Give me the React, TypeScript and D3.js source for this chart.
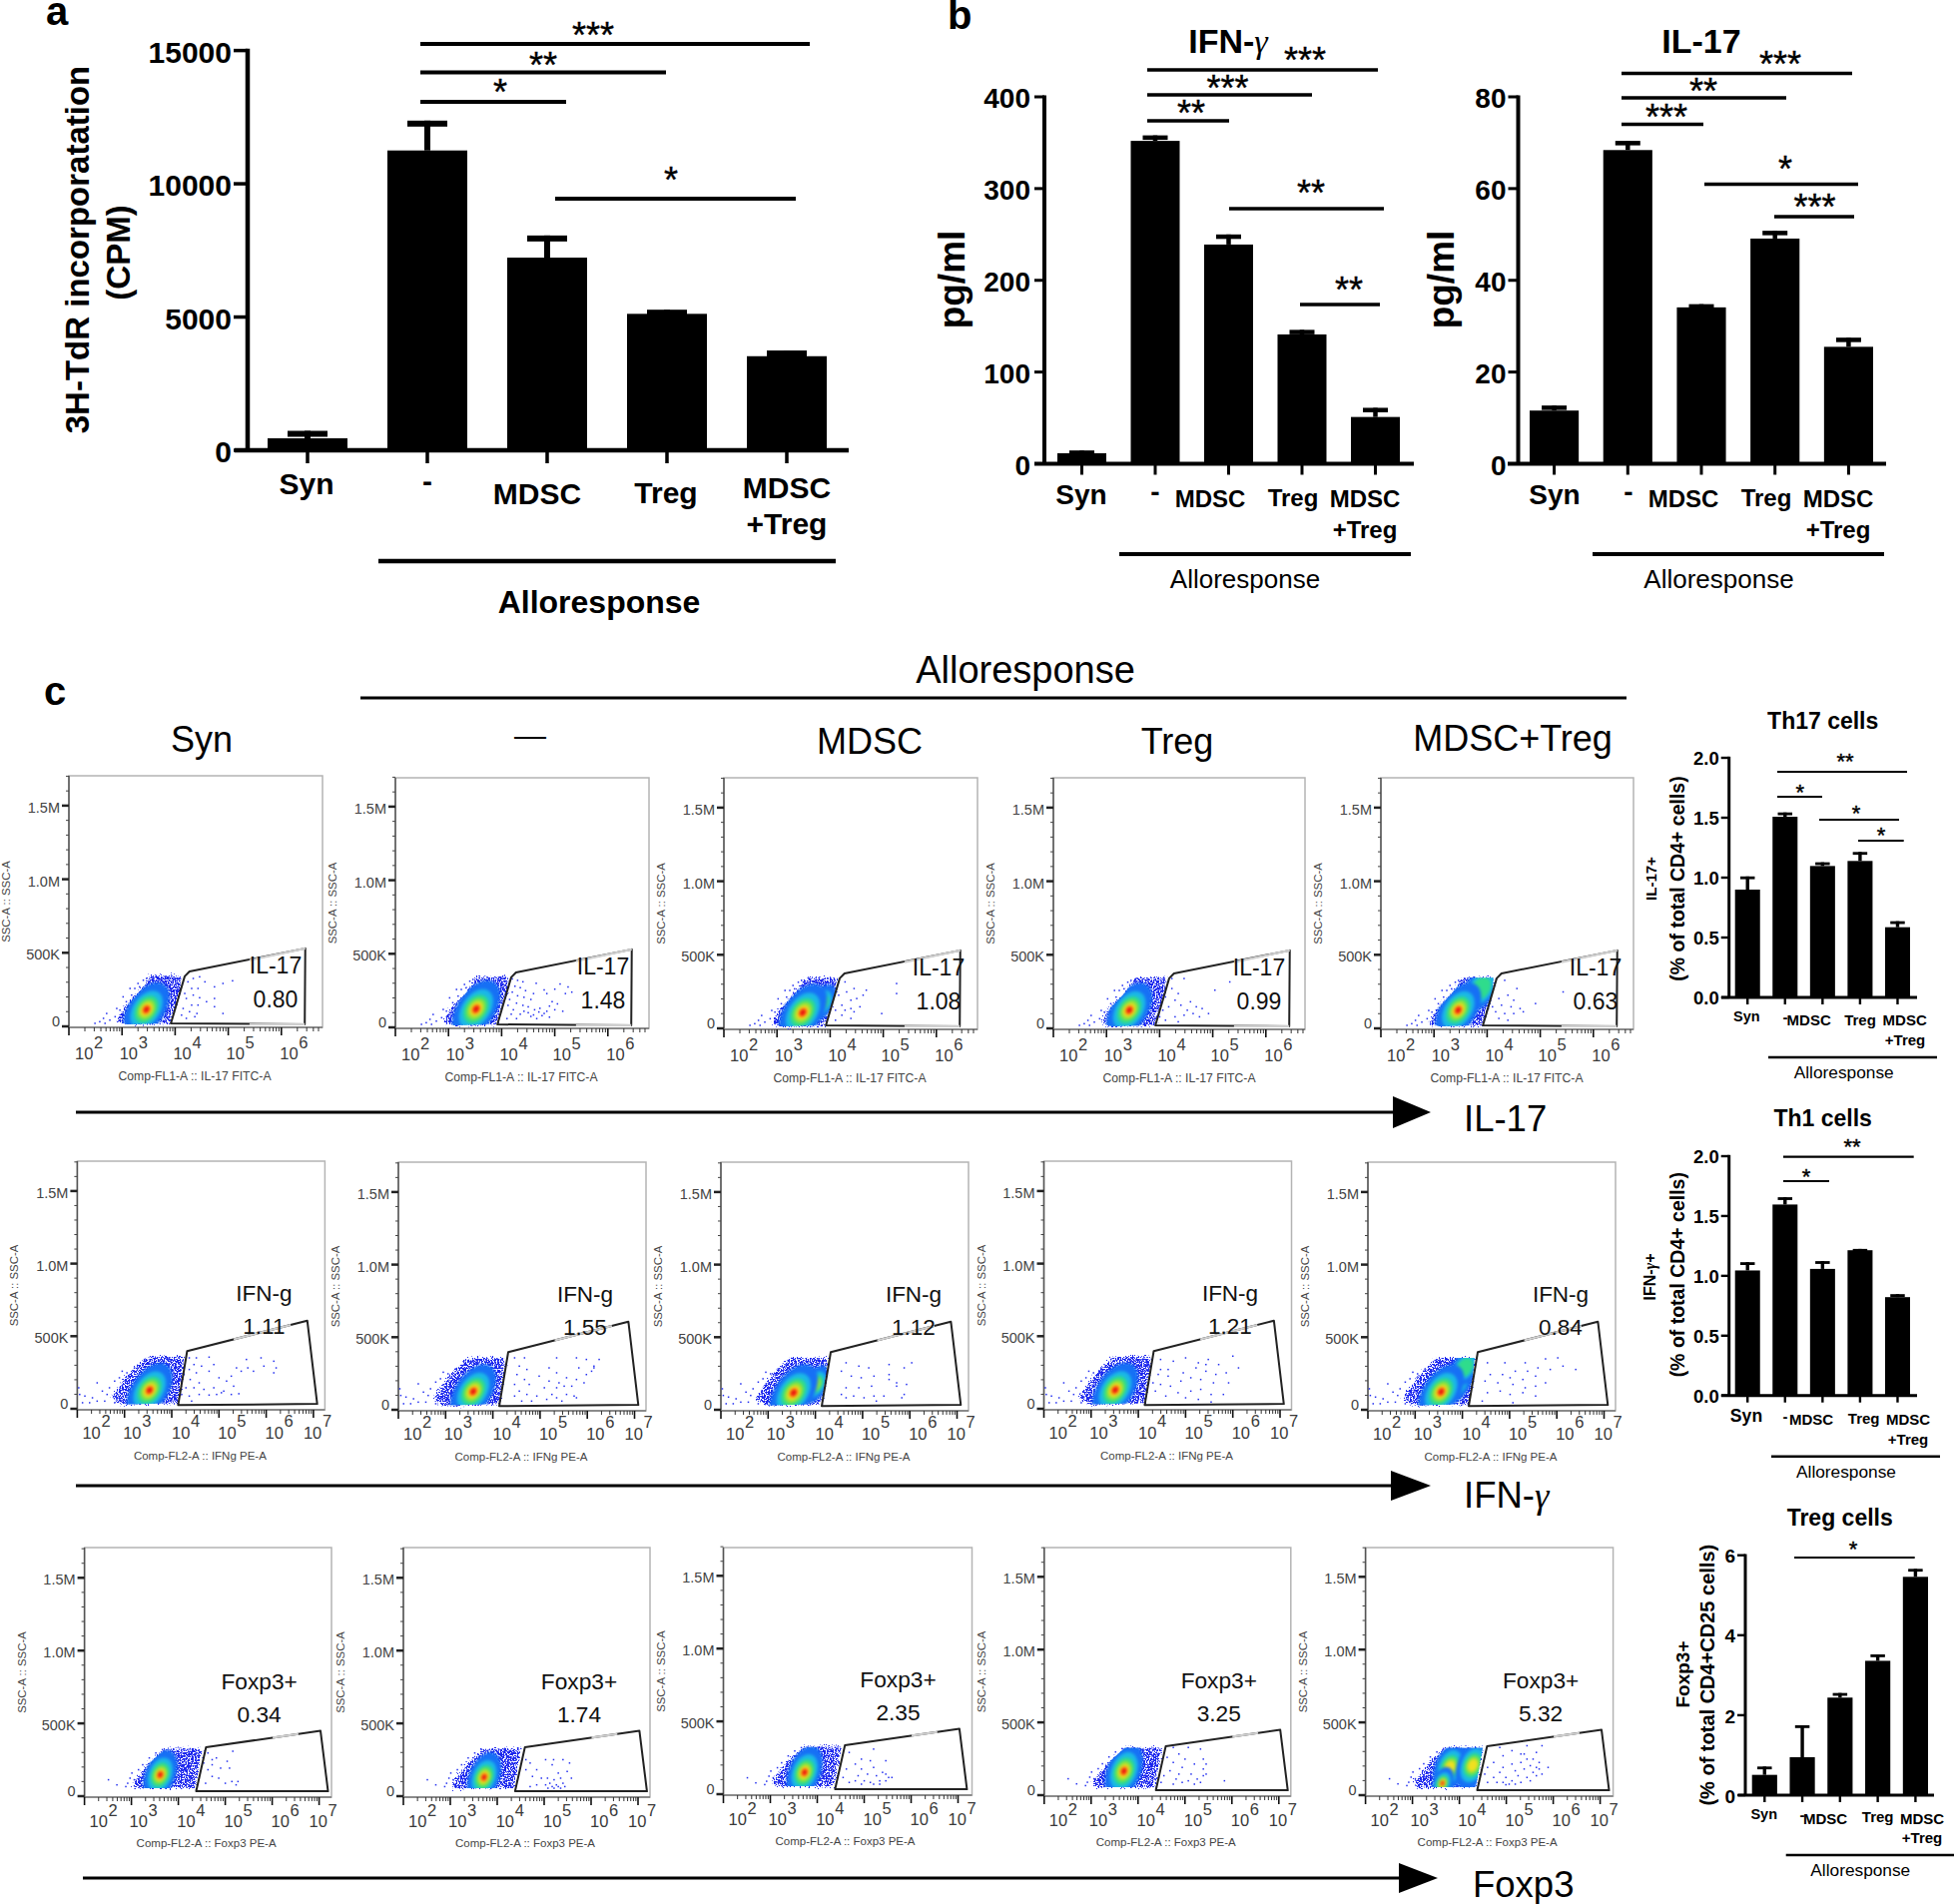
import * as d3 from "d3";

const FONT = "'Liberation Sans', Arial, sans-serif";
const SERIF = "'Liberation Serif', 'Times New Roman', serif";

const categories = ["Syn", "-", "MDSC", "Treg", "MDSC+Treg"];

// bar values
const cpmMeans = [450, 11250, 7230, 5120, 3530];
const cpmTops = [730, 12370, 8060, 5275, 3745];
const ifnMeans = [11.5, 352, 239, 141, 51];
const ifnTops = [14.5, 358, 250, 146, 61];
const il17Means = [11.6, 68.4, 34.1, 49.1, 25.5];
const il17Tops = [12.7, 70.4, 34.8, 50.8, 27.5];
const th17Means = [0.9, 1.508, 1.097, 1.139, 0.586];
const th17Tops = [1.01, 1.544, 1.128, 1.214, 0.636];
const th1Means = [1.045, 1.596, 1.058, 1.214, 0.822];
const th1Tops = [1.114, 1.657, 1.123, 1.225, 0.847];
const tregMeans = [0.508, 0.949, 2.44, 3.36, 5.46];
const tregTops = [0.716, 1.748, 2.555, 3.52, 5.66];

// gate percentages
const il17Gates = ["0.80", "1.48", "1.08", "0.99", "0.63"];
const ifnGates = ["1.11", "1.55", "1.12", "1.21", "0.84"];
const foxGates = ["0.34", "1.74", "2.35", "3.25", "5.32"];

const columnTitles = ["Syn", "—", "MDSC", "Treg", "MDSC+Treg"];
const columnTitleX = [202, 531, 871, 1179, 1515];
const columnTitleY = [753, 737, 755, 755, 752];

// gate polygons, [log10 fluorescence, SSC in thousands]
const il17Gate = [[3.92, 20], [4.18, 340], [4.27, 373], [6.45, 530], [6.44, 14]];
const il17GateGray = [[[5.4, 450], [6.45, 530]], [[5.4, 14], [6.44, 14]]];
const ifnGate = [[4.135, 25], [4.326, 397], [6.87, 607], [7.08, 34]];
const ifnGateGray = [[[5.31, 478], [6.52, 578]]];
const foxGate = [[4.38, 34], [4.59, 336], [7.03, 449], [7.19, 34]];
const foxGateGray = [[[6.01, 402], [6.56, 427]]];

// outer edge of the dense population
const il17Outline = [[2.9, 32], [3.05, 133], [3.33, 235], [3.55, 345], [4.12, 345], [4.1, 240], [3.98, 120], [3.9, 20], [3.1, 14]];
const ifnOutline = [[2.74, 76], [3.05, 225], [3.45, 351], [3.6, 358], [4.26, 358], [4.22, 230], [4.13, 40], [2.95, 30]];
const foxOutline = [[3.04, 90], [3.38, 228], [3.72, 325], [4.5, 325], [4.42, 180], [4.35, 55], [3.08, 55]];

// hot spots per panel: log10, SSC, colour depth, size
const il17Hot = [
  [[3.46, 115, 6, 1]],
  [[3.52, 125, 6, 1.05]],
  [[3.82, 169, 3, 0.7], [3.485, 108, 6, 1.05]],
  [[3.43, 124, 6, 1]],
  [[3.88, 271, 2, 0.85], [3.455, 124, 6, 1]],
];
const ifnHot = [
  [[3.53, 128, 6, 1]],
  [[3.585, 126, 6, 1]],
  [[3.99, 174, 3, 0.7], [3.54, 117, 6, 1.05]],
  [[3.51, 130, 6, 1]],
  [[3.85, 180, 3, 0.8], [4.05, 290, 2, 0.7], [3.55, 124, 6, 1]],
];
const foxHot = [
  [[3.615, 147, 6, 0.85]],
  [[3.72, 130, 6, 0.85]],
  [[3.73, 150, 6, 0.9]],
  [[3.7, 165, 6, 0.95]],
  [[3.8, 192, 4, 0.85], [4.285, 205, 4, 0.85], [3.64, 82, 6, 0.55]],
];

// single events around the population, same for each panel of a row
const il17Fringe = [[2.49, 21], [2.58, 32], [2.65, 55], [2.77, 43], [2.87, 66], [2.96, 111], [3.08, 168], [3.3, 292], [3.33, 269], [3.18, 213], [3.24, 258], [3.46, 326], [2.68, 21], [2.71, 88], [2.9, 122], [3.02, 201], [3.15, 258], [3.4, 314]];
const ifnFringe = [[2.03, 145], [2.05, 99], [2.16, 88], [2.11, 42], [2.32, 76], [2.26, 42], [2.42, 179], [2.53, 122], [2.63, 99], [2.68, 145], [2.79, 191], [2.89, 214], [3.05, 248], [3.21, 282], [3.42, 340], [2.58, 53], [2.79, 42], [2.42, 53], [2.95, 259]];
const foxFringe = [[2.51, 113], [2.69, 78], [2.92, 89], [3.01, 159], [3.15, 182], [3.24, 216], [3.38, 263], [3.52, 297], [3.06, 113], [2.88, 66], [2.97, 124], [3.66, 320]];

// single events inside and near the gates
const il17Dots = [
  [[4.34, 326], [4.46, 337], [4.56, 303], [4.74, 269], [4.9, 292], [5.08, 310], [4.24, 303], [4.31, 258], [4.43, 258], [4.34, 213], [4.46, 195], [4.21, 190], [4.31, 145], [4.43, 145], [4.15, 122], [4.27, 100], [4.37, 66], [4.12, 77], [4.21, 55], [4.74, 190], [4.74, 134], [4.9, 88], [4.59, 168], [4.41, 88], [4.18, 224]],
  [[4.2, 330], [4.3, 320], [4.4, 310], [4.25, 280], [4.35, 270], [4.45, 250], [4.2, 240], [4.3, 215], [4.42, 205], [4.55, 190], [4.15, 190], [4.28, 165], [4.4, 150], [4.5, 140], [4.62, 120], [4.7, 105], [4.8, 95], [4.72, 130], [4.85, 110], [4.9, 70], [4.6, 85], [4.5, 100], [4.42, 110], [4.35, 90], [4.55, 75], [4.66, 60], [4.76, 80], [4.22, 120], [4.18, 90], [4.28, 60], [4.12, 150], [4.1, 60], [4.95, 175], [4.85, 230], [5.0, 260], [5.1, 295], [5.25, 275], [5.2, 230], [5.32, 240], [5.05, 160], [5.15, 110], [4.9, 145], [4.6, 230], [5.0, 120], [4.65, 300], [4.8, 255]],
  [[4.28, 316], [4.45, 271], [4.39, 192], [4.68, 260], [4.62, 226], [4.22, 158], [4.39, 135], [4.56, 147], [4.22, 90], [4.39, 68], [4.1, 56], [4.97, 101], [5.25, 305], [5.25, 237], [4.5, 203], [4.31, 248], [4.16, 226], [4.28, 124], [4.1, 124], [4.45, 113]],
  [[4.23, 339], [4.46, 339], [4.23, 271], [4.35, 237], [4.11, 214], [4.29, 192], [4.4, 158], [4.17, 147], [4.52, 124], [4.69, 147], [4.8, 135], [4.63, 101], [4.46, 90], [4.75, 79], [4.29, 79], [4.11, 56], [4.35, 45], [5.32, 316], [5.04, 260], [4.58, 181], [4.06, 124], [4.0, 79], [4.92, 101]],
  [[4.33, 327], [4.56, 271], [4.39, 226], [4.22, 203], [4.5, 192], [4.27, 158], [4.45, 147], [4.62, 135], [4.16, 113], [4.33, 101], [4.5, 101], [4.68, 113], [4.22, 68], [4.39, 56], [4.91, 169], [5.43, 248], [4.1, 147]],
];
const ifnDots = [
  [[4.37, 351], [4.52, 351], [4.79, 356], [4.47, 305], [4.63, 294], [4.37, 271], [4.52, 248], [4.39, 202], [4.58, 179], [4.3, 145], [4.47, 145], [4.68, 134], [4.89, 145], [5.0, 214], [5.16, 191], [5.26, 225], [5.31, 156], [5.1, 122], [4.95, 99], [5.26, 99], [5.42, 104], [4.79, 95], [4.58, 99], [4.37, 88], [5.58, 340], [5.61, 282], [5.73, 259], [5.89, 351], [5.95, 294], [6.16, 328], [6.21, 282], [6.16, 248], [5.47, 259], [5.37, 282], [4.21, 179], [4.21, 99], [4.26, 236], [4.79, 259], [4.89, 305], [5.05, 111], [4.42, 53]],
  [[4.46, 358], [4.67, 358], [4.56, 301], [4.72, 278], [4.51, 243], [4.67, 209], [4.46, 175], [4.77, 175], [4.56, 129], [4.72, 106], [4.93, 95], [4.46, 95], [5.35, 358], [5.19, 289], [5.35, 255], [5.19, 198], [5.4, 186], [5.56, 221], [5.35, 152], [5.51, 163], [5.77, 358], [5.82, 289], [5.98, 347], [6.25, 347], [6.14, 301], [5.98, 243], [5.77, 209], [5.67, 163], [5.93, 186], [6.09, 266], [5.56, 106], [5.35, 83], [5.14, 72], [5.72, 95], [4.98, 232], [5.09, 152], [5.25, 106], [5.46, 60], [5.77, 83], [4.82, 60], [4.61, 60], [6.14, 289]],
  [[6.04, 324], [5.88, 289], [5.56, 312], [5.13, 289], [4.92, 301], [4.65, 324], [4.55, 266], [4.76, 232], [4.97, 221], [5.24, 232], [5.56, 243], [5.72, 186], [5.93, 175], [5.72, 163], [5.56, 209], [5.19, 163], [4.92, 152], [4.65, 152], [5.45, 95], [5.24, 95], [5.03, 83], [4.81, 95], [4.65, 83], [5.88, 106], [5.83, 83], [5.29, 60], [4.55, 106]],
  [[4.47, 340], [4.74, 328], [5.0, 351], [5.48, 340], [6.0, 363], [6.12, 282], [5.7, 305], [5.27, 317], [4.47, 271], [4.63, 225], [4.95, 248], [5.22, 282], [5.43, 259], [5.64, 237], [5.86, 248], [5.91, 179], [5.59, 179], [5.32, 202], [5.11, 214], [4.9, 191], [4.68, 156], [4.47, 168], [4.36, 122], [4.58, 88], [4.84, 111], [5.11, 122], [5.32, 134], [5.54, 99], [5.8, 99], [5.0, 76], [5.27, 65], [5.54, 47], [4.31, 179], [4.42, 237], [4.63, 271], [5.43, 305]],
  [[4.53, 324], [4.9, 324], [5.33, 324], [5.76, 351], [6.02, 358], [6.13, 301], [6.4, 278], [5.86, 278], [5.6, 289], [5.38, 266], [5.12, 266], [4.85, 243], [4.59, 243], [4.48, 198], [4.75, 186], [5.01, 221], [5.28, 209], [5.55, 232], [5.76, 186], [5.55, 163], [5.33, 152], [5.07, 175], [4.8, 129], [4.53, 118], [5.01, 106], [5.28, 118], [5.55, 95], [5.07, 49], [4.42, 60]],
];
const foxDots = [
  [[4.63, 297], [4.72, 251], [4.81, 263], [5.16, 309], [5.04, 240], [4.9, 193], [5.09, 193], [4.63, 182], [4.72, 136], [4.86, 124], [5.14, 101], [5.27, 101], [4.58, 89], [5.0, 89], [4.72, 216], [4.54, 228], [5.23, 78]],
  [[4.7, 228], [5.03, 251], [5.2, 251], [5.4, 251], [5.54, 228], [4.84, 182], [5.17, 216], [5.3, 159], [5.49, 170], [4.75, 136], [4.94, 124], [5.07, 124], [5.21, 113], [5.35, 124], [5.58, 124], [4.84, 78], [5.03, 78], [5.12, 89], [5.17, 66], [5.26, 78], [5.3, 66], [5.4, 89], [5.44, 66], [5.21, 55], [5.35, 55], [5.08, 55], [4.7, 66], [4.61, 182], [4.61, 251]],
  [[4.94, 241], [5.2, 310], [5.13, 230], [5.46, 230], [4.68, 287], [4.81, 207], [4.62, 173], [4.94, 173], [5.2, 184], [4.87, 127], [5.07, 138], [5.26, 127], [5.46, 138], [5.59, 115], [5.0, 92], [5.13, 81], [5.33, 92], [5.46, 92], [5.52, 115], [5.2, 69], [4.94, 69], [4.81, 92], [4.55, 115], [4.68, 81], [5.33, 69], [5.39, 150]],
  [[4.75, 328], [5.07, 328], [5.33, 317], [4.87, 283], [5.39, 248], [5.45, 214], [4.62, 260], [4.75, 225], [5.0, 248], [5.2, 214], [4.94, 191], [4.68, 168], [4.87, 145], [5.13, 145], [5.39, 134], [5.45, 145], [5.26, 111], [5.07, 99], [4.81, 111], [4.55, 134], [5.2, 76], [5.33, 88], [4.94, 88], [5.84, 99], [4.75, 76], [4.49, 88], [5.39, 180]],
  [[4.86, 328], [5.44, 340], [5.76, 340], [4.93, 271], [5.38, 283], [5.64, 294], [5.57, 248], [5.44, 248], [5.7, 225], [5.31, 225], [5.51, 203], [5.12, 214], [4.73, 225], [4.6, 191], [4.93, 191], [5.64, 191], [5.89, 191], [5.38, 180], [5.19, 168], [5.57, 157], [5.76, 145], [4.86, 157], [4.54, 145], [4.73, 122], [4.99, 122], [5.25, 134], [5.44, 122], [5.64, 134], [4.93, 88], [5.12, 99], [5.31, 88], [5.06, 76], [4.8, 88], [5.51, 99], [4.6, 88], [5.19, 76], [4.99, 72], [5.7, 180], [5.31, 283], [5.12, 306]],
];

const SSC_TICKS = [0, 500, 1000, 1500];
const SSC_LABELS = ["0", "500K", "1.0M", "1.5M"];
const SSC_MINOR = d3.range(0, 1800, 100);

// colour bands of the density plot, from the rim to the peak, with half axes in px
const BANDS: [string, number, number][] = [
  ["#1670f5", 31, 18],
  ["#1ab8e6", 21, 13.5],
  ["#2fdc8c", 15, 10.5],
  ["#8ee33a", 11, 8],
  ["#f0e020", 7.5, 5.5],
  ["#ff7a10", 5, 3.8],
  ["#e81010", 3, 2.3],
];

const rows = [
  {
    key: "il17",
    lefts: [69, 396, 725, 1055, 1383],
    widths: [254, 254, 254, 252, 253],
    tops: [777, 779, 779, 779, 779],
    zeros: [1028, 1029, 1030, 1030, 1030],
    decade: 53.2,
    px500: 73.7,
    maxExp: 6,
    startOffsets: [6, -2.5, -2, -2, -1.5],
    expDy: 22,
    tenDy: 33,
    titleDy: 54,
    titleDx: 126,
    titleSize: 12.2,
    axisTitle: "Comp-FL1-A :: IL-17 FITC-A",
    gate: il17Gate,
    gateGray: il17GateGray,
    outline: il17Outline,
    hot: il17Hot,
    fringe: il17Fringe,
    dots: il17Dots,
    rotate: -55,
    name: "IL-17",
    values: il17Gates,
    nameDy: -53,
    valueDy: -19,
    textDx: [207, 208, 215, 206, 215],
    textSize: 23,
  },
  {
    key: "ifn",
    lefts: [77.4, 399, 722, 1045.5, 1370],
    widths: [248, 248, 248, 248, 248],
    tops: [1163, 1164, 1164, 1163, 1164],
    zeros: [1411, 1412, 1412, 1411, 1412],
    decade: 47.3,
    px500: 72.7,
    maxExp: 7,
    startOffsets: [5, -1.5, 0, -1, -1, -10],
    expDy: 18,
    tenDy: 30,
    titleDy: 51,
    titleDx: 123,
    titleSize: 11.5,
    axisTitle: "Comp-FL2-A :: IFNg PE-A",
    gate: ifnGate,
    gateGray: ifnGateGray,
    outline: ifnOutline,
    hot: ifnHot,
    fringe: ifnFringe,
    dots: ifnDots,
    rotate: -55,
    name: "IFN-g",
    values: ifnGates,
    nameDy: -108,
    valueDy: -75,
    textDx: [187, 187, 193, 186.5, 193],
    textSize: 22.5,
  },
  {
    key: "fox",
    lefts: [84.6, 404, 724.5, 1045.8, 1367.6],
    widths: [247.4, 247, 249, 247, 248],
    tops: [1550, 1550, 1550, 1550, 1550],
    zeros: [1799, 1799, 1797, 1798, 1798],
    decade: 47,
    px500: 72.9,
    maxExp: 7,
    startOffsets: [5, -2, -1.3, -1, -1, -10],
    expDy: 20,
    tenDy: 31,
    titleDy: 51,
    titleDx: 122,
    titleSize: 11.5,
    axisTitle: "Comp-FL2-A :: Foxp3 PE-A",
    gate: foxGate,
    gateGray: foxGateGray,
    outline: foxOutline,
    hot: foxHot,
    fringe: foxFringe,
    dots: foxDots,
    rotate: -68,
    name: "Foxp3+",
    values: foxGates,
    nameDy: -107,
    valueDy: -74,
    textDx: [175, 176, 175, 175, 175.5],
    textSize: 22.7,
  },
];

const FlowPanel = ({ row, i }: any) => {
  const left = row.lefts[i];
  const width = row.widths[i];
  const top = row.tops[i];
  const zero = row.zeros[i];
  const bottom = zero + 1;
  const x = d3.scaleLinear().domain([2, 2 + width / row.decade]).range([left, left + width]);
  const y = d3.scaleLinear().domain([0, 500]).range([zero, zero - row.px500]);
  const toPath = d3.line<number[]>().x((d) => x(d[0])).y((d) => y(d[1]));
  const clipId = `clip-${row.key}-${i}`;
  const exps = d3.range(2, row.maxExp + 1);
  const minor = exps.flatMap((e) => d3.range(2, 10).map((m) => e + Math.log10(m))).filter((v) => x(v) <= left + width);
  const textX = left + row.textDx[i];

  return (
    <g fontFamily={FONT}>
      <rect x={left} y={top} width={width} height={bottom - top} fill="#fff" stroke="#b4b4b4" strokeWidth={1.5} />
      <line x1={left} x2={left} y1={top} y2={bottom} stroke="#555" strokeWidth={1.5} />
      <line x1={left} x2={left + width} y1={bottom} y2={bottom} stroke="#777" strokeWidth={1.5} />

      {SSC_MINOR.map((v) => (
        <line key={v} x1={left - 3} x2={left} y1={y(v)} y2={y(v)} stroke="#444" strokeWidth={1} />
      ))}
      {SSC_TICKS.map((v, k) => (
        <g key={v}>
          <line x1={left - 7} x2={left} y1={y(v)} y2={y(v)} stroke="#222" strokeWidth={2.5} />
          <text x={left - 9} y={v === 0 ? y(v) - 0.5 : y(v) + 7} textAnchor="end" fontSize={14.5} fill="#444">
            {SSC_LABELS[k]}
          </text>
        </g>
      ))}
      <text
        transform={`translate(${left - 59},${(y(0) + top) / 2 + 0.5}) rotate(-90)`}
        textAnchor="middle"
        fontSize={11.4}
        fill="#444"
      >
        SSC-A :: SSC-A
      </text>

      {minor.map((v) => (
        <line key={v} x1={x(v)} x2={x(v)} y1={bottom} y2={bottom + 4} stroke="#333" strokeWidth={1} />
      ))}
      {exps.map((e, k) => (
        <g key={e} fill="#3a3a3a">
          <line x1={x(e)} x2={x(e)} y1={bottom} y2={bottom + 8} stroke="#111" strokeWidth={1.6} />
          <text x={x(e) + row.startOffsets[k]} y={zero + row.tenDy} fontSize={16.5}>
            10
          </text>
          <text x={x(e) + row.startOffsets[k] + 19} y={zero + row.expDy} fontSize={16.5}>
            {e}
          </text>
        </g>
      ))}
      <text x={left + row.titleDx} y={zero + row.titleDy} textAnchor="middle" fontSize={row.titleSize} fill="#444">
        {row.axisTitle}
      </text>

      <clipPath id={clipId}>
        <path d={toPath(row.outline) + "Z"} />
      </clipPath>
      <path d={toPath(row.outline) + "Z"} fill="#1a25ee" filter="url(#rough)" />
      <g clipPath={`url(#${clipId})`}>
        <g filter="url(#soft)">
          {row.hot[i].map((h: number[], k: number) =>
            BANDS.slice(0, h[2] + 1).map((b, n) => (
              <ellipse
                key={`${k}-${n}`}
                cx={x(h[0])}
                cy={y(h[1])}
                rx={b[1] * h[3]}
                ry={b[2] * h[3]}
                fill={b[0]}
                transform={`rotate(${row.rotate} ${x(h[0])} ${y(h[1])})`}
              />
            ))
          )}
        </g>
      </g>
      {[...row.fringe, ...row.dots[i]].map((d: number[], k: number) => (
        <rect key={k} x={x(d[0]) - 0.7} y={y(d[1]) - 0.7} width={1.5} height={1.5} fill="#2430f0" />
      ))}

      <path d={toPath(row.gate) + "Z"} fill="none" stroke="#222" strokeWidth={2} strokeLinejoin="round" />
      {row.gateGray.map((seg: number[][], k: number) => (
        <path key={k} d={toPath(seg)!} fill="none" stroke="#cfcfcf" strokeWidth={2.2} />
      ))}

      <text x={textX} y={zero + row.nameDy} textAnchor="middle" fontSize={row.textSize} fill="#111">
        {row.name}
      </text>
      <text x={textX} y={zero + row.valueDy} textAnchor="middle" fontSize={row.textSize} fill="#111">
        {row.values[i]}
      </text>
    </g>
  );
};

const Stars = ({ x, cy, n, size }: any) => (
  <text x={x} y={cy + size * 0.47} textAnchor="middle" fontSize={size} fontWeight="normal" fontFamily={FONT} fill="#000" stroke="#000" strokeWidth={0.4}>
    {"*".repeat(n)}
  </text>
);

const BarPanel = ({ means, tops, maxValue, ticks, format, layout }: any) => {
  const l = layout;
  const x = d3.scaleBand<string>().domain(categories).range([l.barStart, l.barEnd]).paddingInner(1 / 3).paddingOuter(0);
  const y = d3.scaleLinear().domain([0, maxValue]).range([l.yZero, l.yTop]);
  const bw = x.bandwidth();

  return (
    <g fontFamily={FONT} fill="#000">
      {categories.map((c, i) => {
        const cx = x(c)! + bw / 2;
        return (
          <g key={c}>
            <rect x={cx - l.stem / 2} y={y(tops[i])} width={l.stem} height={y(means[i]) - y(tops[i])} />
            <rect x={cx - l.cap / 2} y={y(tops[i])} width={l.cap} height={l.capH} />
            <rect x={x(c)} y={y(means[i])} width={bw} height={y(0) - y(means[i])} />
            <line x1={cx} x2={cx} y1={y(0)} y2={y(0) + l.tickLen} stroke="#000" strokeWidth={l.tickW} />
          </g>
        );
      })}
      <line x1={l.axisX} x2={l.axisX} y1={y(maxValue) - l.tickW / 2} y2={y(0)} stroke="#000" strokeWidth={l.axisW} />
      <line x1={l.baseStart} x2={l.baseEnd} y1={y(0)} y2={y(0)} stroke="#000" strokeWidth={l.axisW} />
      {ticks.map((t: number) => (
        <g key={t}>
          <line x1={l.axisX - l.yTickLen} x2={l.axisX} y1={y(t)} y2={y(t)} stroke="#000" strokeWidth={l.tickW} />
          <text x={l.axisX - l.yTickGap} y={y(t) + l.tickSize * 0.4} textAnchor="end" fontSize={l.tickSize} fontWeight="bold">
            {format(t)}
          </text>
        </g>
      ))}
      {l.labels.map((t: any, i: number) => (
        <text key={i} x={t[1]} y={t[2]} textAnchor="middle" fontSize={t[3] ?? l.labelSize} fontWeight="bold">
          {t[0]}
        </text>
      ))}
      {l.sigs.map((s: number[], i: number) => (
        <g key={i}>
          <line x1={s[0]} x2={s[1]} y1={s[2]} y2={s[2]} stroke="#000" strokeWidth={l.sigW} />
          <Stars x={s[4]} cy={s[5]} n={s[3]} size={l.starSize} />
        </g>
      ))}
      <line x1={l.allo[0]} x2={l.allo[1]} y1={l.allo[2]} y2={l.allo[2]} stroke="#000" strokeWidth={l.alloW} />
      <text x={l.allo[3]} y={l.allo[4]} textAnchor="middle" fontSize={l.alloSize} fontWeight={l.alloBold ? "bold" : "normal"}>
        Alloresponse
      </text>
    </g>
  );
};

const layoutA = {
  barStart: 268, barEnd: 828, yZero: 451, yTop: 50.6, axisX: 248, baseStart: 235, baseEnd: 850,
  stem: 6, cap: 40, capH: 6, tickLen: 13, tickW: 3.5, axisW: 4.5, yTickLen: 14, yTickGap: 16, tickSize: 30,
  labelSize: 30, sigW: 4, starSize: 36, alloW: 4.5, alloSize: 32, alloBold: true,
  labels: [["Syn", 307, 495], ["-", 428, 492], ["MDSC", 538, 505], ["Treg", 667, 504], ["MDSC", 788, 499], ["+Treg", 788, 535]],
  sigs: [[421, 811, 44, 3, 594, 31], [421, 667, 72.6, 2, 544, 61], [421, 567, 102, 1, 501, 88], [556, 797, 199, 1, 672, 176]],
  allo: [379, 837, 562, 600, 614],
};
const bLabels = (off: number) => [
  ["Syn", 1083 + off, 505, 28], ["-", 1157 + off, 502, 28], ["MDSC", 1212 + off, 508], ["Treg", 1295 + off, 507], ["MDSC", 1367 + off, 508], ["+Treg", 1367 + off, 539],
];
const layoutIfn = {
  barStart: 1059, barEnd: 1402, yZero: 464.5, yTop: 97, axisX: 1046, baseStart: 1036, baseEnd: 1416,
  stem: 4.5, cap: 25, capH: 4.5, tickLen: 11, tickW: 3, axisW: 4, yTickLen: 10, yTickGap: 14, tickSize: 28,
  labelSize: 24, sigW: 3.5, starSize: 36, alloW: 4, alloSize: 26, alloBold: false,
  labels: bLabels(0),
  sigs: [[1149, 1380, 70, 3, 1307, 56], [1149, 1314, 95, 3, 1229.5, 84], [1149, 1231, 121, 2, 1193, 109], [1231, 1386, 209, 2, 1313, 189], [1302, 1382, 305, 2, 1351, 286]],
  allo: [1121, 1413, 555, 1247, 589],
};
const layoutIl17 = {
  ...layoutIfn,
  barStart: 1532, barEnd: 1876, axisX: 1520.5, baseStart: 1510, baseEnd: 1889, yTickGap: 12,
  labels: bLabels(474),
  sigs: [[1624, 1855, 73.5, 3, 1783, 60], [1624, 1789, 98, 2, 1706, 87], [1624, 1706, 124.5, 3, 1669, 113], [1707, 1861, 184.5, 1, 1788, 165], [1777, 1857, 217, 3, 1817.5, 203]],
  allo: [1595, 1887, 555, 1721.5, 589],
};
const smallBase = {
  barStart: 1737.7, barEnd: 1913, axisX: 1731.7, baseStart: 1724, baseEnd: 1920,
  stem: 3.4, cap: 14.5, capH: 2.8, tickLen: 7, tickW: 2.4, axisW: 3, yTickLen: 8, yTickGap: 10, tickSize: 18.5,
  labelSize: 15, sigW: 2.2, starSize: 22, alloW: 2.6, alloSize: 17.3, alloBold: false,
};
const layoutTh17 = {
  ...smallBase, yZero: 999, yTop: 759,
  labels: [["Syn", 1749.3, 1022.7, 14.5], ["-", 1788, 1024], ["MDSC", 1811.7, 1027], ["Treg", 1863, 1026.7], ["MDSC", 1907.7, 1027], ["+Treg", 1908, 1046.7]],
  sigs: [[1780, 1910, 773, 2, 1848, 760], [1780, 1825, 798, 1, 1802.7, 790.7], [1822, 1902, 821, 1, 1859, 811.7], [1861, 1906.7, 842, 1, 1884, 834]],
  allo: [1771, 1940, 1059, 1846.7, 1080],
};
const layoutTh1 = {
  ...smallBase, yZero: 1397.7, yTop: 1158,
  labels: [["Syn", 1749, 1424, 17.6], ["-", 1788, 1424], ["MDSC", 1814, 1427], ["Treg", 1866.7, 1426], ["MDSC", 1911, 1427], ["+Treg", 1911, 1447]],
  sigs: [[1786, 1916.7, 1158.7, 2, 1855, 1145.7], [1786, 1832, 1183, 1, 1809, 1176]],
  allo: [1774, 1943, 1458.7, 1849, 1480],
};
const layoutTreg = {
  ...smallBase, barStart: 1754.7, barEnd: 1931, axisX: 1748, baseStart: 1740.7, baseEnd: 1937, yZero: 1798, yTop: 1557.7, tickSize: 19,
  labels: [["Syn", 1766.7, 1821.7, 14.5], ["-", 1805, 1823], ["MDSC", 1828, 1826.7], ["Treg", 1880.7, 1825], ["MDSC", 1925, 1826.7], ["+Treg", 1925, 1846]],
  sigs: [[1797, 1917.7, 1560, 1, 1856, 1549]],
  allo: [1788.7, 1957, 1858, 1863.3, 1879],
};

const Gamma = ({ weight = "normal" }: any) => (
  <tspan fontFamily={SERIF} fontStyle="italic" fontWeight={weight}>
    γ
  </tspan>
);

const VText = ({ x, y, size, bold = true, children }: any) => (
  <text
    transform={`translate(${x},${y}) rotate(-90)`}
    textAnchor="middle"
    fontSize={size}
    fontWeight={bold ? "bold" : "normal"}
    fontFamily={FONT}
    fill="#000"
  >
    {children}
  </text>
);

const Arrow = ({ x1, x2, tip, y, half }: any) => (
  <g>
    <line x1={x1} x2={x2} y1={y} y2={y} stroke="#000" strokeWidth={3} />
    <path d={d3.line()([[x2, y - half], [tip, y], [x2, y + half]]) + "Z"} fill="#000" />
  </g>
);

const App = () => {
  const plain = (v: number) => String(v);
  const oneDec = d3.format(".1f");
  return (
    <svg width={1957} height={1907} viewBox="0 0 1957 1907" style={{ position: "absolute", left: 0, top: 0, background: "#fff" }}>
      <defs>
        <filter id="soft" x="-30%" y="-30%" width="160%" height="160%" colorInterpolationFilters="sRGB">
          <feGaussianBlur stdDeviation={1.6} />
        </filter>
        {/* breaks the rim of the population into grains */}
        <filter id="rough" x="-15%" y="-15%" width="130%" height="130%" colorInterpolationFilters="sRGB">
          <feTurbulence type="fractalNoise" baseFrequency={0.7} numOctaves={2} seed={4} result="n" />
          <feDisplacementMap in="SourceGraphic" in2="n" scale={10} xChannelSelector="R" yChannelSelector="G" result="d" />
          <feColorMatrix in="n" type="matrix" values="0 0 0 0 0 0 0 0 0 0 0 0 0 0 0 0 0 0 9 -3.6" result="mask" />
          <feComposite in="d" in2="mask" operator="in" />
        </filter>
      </defs>
      <rect width={1957} height={1907} fill="#fff" />

      <g fontFamily={FONT} fontWeight="bold" fontSize={40} fill="#000">
        <text x={46} y={25}>a</text>
        <text x={949} y={29}>b</text>
        <text x={44} y={706}>c</text>
      </g>

      {/* a */}
      <BarPanel means={cpmMeans} tops={cpmTops} maxValue={15000} ticks={[0, 5000, 10000, 15000]} format={plain} layout={layoutA} />
      <VText x={89} y={250} size={33}>3H-TdR incorporatation</VText>
      <VText x={130} y={253} size={33}>(CPM)</VText>

      {/* b */}
      <BarPanel means={ifnMeans} tops={ifnTops} maxValue={400} ticks={[0, 100, 200, 300, 400]} format={plain} layout={layoutIfn} />
      <BarPanel means={il17Means} tops={il17Tops} maxValue={80} ticks={[0, 20, 40, 60, 80]} format={plain} layout={layoutIl17} />
      <text x={1230} y={53} textAnchor="middle" fontFamily={FONT} fontWeight="bold" fontSize={34}>
        IFN-<Gamma />
      </text>
      <text x={1704} y={53} textAnchor="middle" fontFamily={FONT} fontWeight="bold" fontSize={34}>
        IL-17
      </text>
      <VText x={966} y={280} size={37}>pg/ml</VText>
      <VText x={1456} y={280} size={37}>pg/ml</VText>

      {/* c header */}
      <text x={1027} y={684} textAnchor="middle" fontFamily={FONT} fontSize={38}>Alloresponse</text>
      <line x1={361} x2={1629} y1={699} y2={699} stroke="#000" strokeWidth={3} />
      {columnTitles.map((t, i) => (
        <text key={i} x={columnTitleX[i]} y={columnTitleY[i] + (i === 1 ? 10 : 0)} textAnchor="middle" fontFamily={FONT} fontSize={i === 1 ? 32 : 36}>
          {t}
        </text>
      ))}

      {rows.map((row) => categories.map((_, i) => <FlowPanel key={`${row.key}${i}`} row={row} i={i} />))}

      <Arrow x1={76} x2={1395} tip={1433} y={1114} half={16} />
      <Arrow x1={76} x2={1393} tip={1433} y={1488} half={15} />
      <Arrow x1={83} x2={1401} tip={1440} y={1881} half={15} />
      <g fontFamily={FONT} fontSize={36.5} fill="#000">
        <text x={1466} y={1133}>IL-17</text>
        <text x={1466} y={1510}>IFN-<Gamma /></text>
        <text x={1475} y={1900}>Foxp3</text>
      </g>

      {/* right column */}
      <g fontFamily={FONT} fontWeight="bold" fontSize={23} textAnchor="middle" fill="#000">
        <text x={1825.7} y={730}>Th17 cells</text>
        <text x={1825.7} y={1128}>Th1 cells</text>
        <text x={1842.7} y={1528}>Treg cells</text>
      </g>
      <BarPanel means={th17Means} tops={th17Tops} maxValue={2} ticks={[0, 0.5, 1, 1.5, 2]} format={oneDec} layout={layoutTh17} />
      <BarPanel means={th1Means} tops={th1Tops} maxValue={2} ticks={[0, 0.5, 1, 1.5, 2]} format={oneDec} layout={layoutTh1} />
      <BarPanel means={tregMeans} tops={tregTops} maxValue={6} ticks={[0, 2, 4, 6]} format={plain} layout={layoutTreg} />
      <VText x={1659} y={880} size={15}>IL-17+</VText>
      <VText x={1686.7} y={880} size={19.5}>(% of total CD4+ cells)</VText>
      <VText x={1658} y={1279} size={16}>IFN-<Gamma weight="bold" />+</VText>
      <VText x={1686.7} y={1276.7} size={19.5}>(% of total CD4+ cells)</VText>
      <VText x={1692} y={1677} size={19}>Foxp3+</VText>
      <VText x={1716.7} y={1677.7} size={20}>(% of total CD4+CD25 cells)</VText>
    </svg>
  );
};

export default App;
